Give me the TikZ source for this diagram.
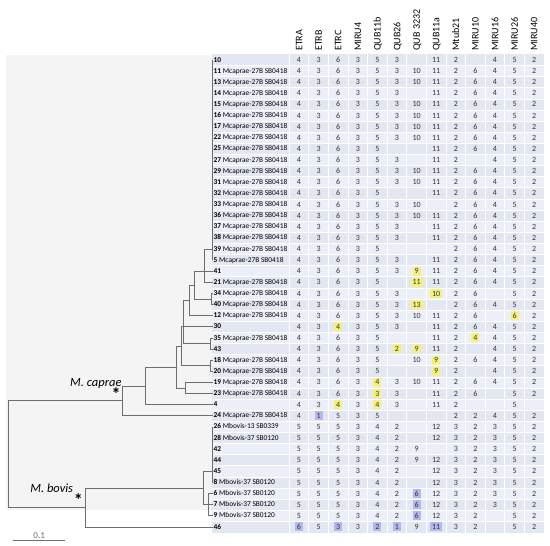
\documentclass[tikz,border=0pt]{standalone}
\usepackage{fontspec}
\setmainfont{Carlito}
\usetikzlibrary{calc,positioning}
\definecolor{TreeBack}{HTML}{F4F4F4}
\definecolor{TreeLine}{HTML}{6E6E6E}
\definecolor{CellA}{HTML}{E2E7F2}
\definecolor{CellB}{HTML}{ECEFF7}
\definecolor{HiYellow}{HTML}{F5F27C}
\definecolor{HiBlue}{HTML}{B5B8EE}
\definecolor{ValText}{HTML}{333333}

% highlighted allele counts
\protected\def\hy#1{{\fboxsep=1.4pt\colorbox{HiYellow}{\kern.5pt\rule[-0.4pt]{0pt}{6.2pt}#1\kern.5pt}}}
\protected\def\hb#1{{\fboxsep=1.4pt\colorbox{HiBlue}{\kern.5pt\rule[-0.4pt]{0pt}{6.2pt}#1\kern.5pt}}}

\begin{document}
\begin{tikzpicture}[
    x=1pt, y=-1pt,
    branch/.style = {draw=TreeLine, line width=0.9pt},
    strain/.style = {font=\fontsize{7.4}{8}\selectfont, inner sep=0pt, text height=5.2pt, text depth=1.2pt},
    val/.style    = {font=\fontsize{8}{8}\selectfont, text=ValText, inner sep=0pt, text height=5pt, text depth=0pt},
    locus/.style  = {font=\fontsize{10}{10}\selectfont, rotate=90, anchor=west, inner sep=0pt, text height=6.5pt, text depth=0pt},
    clade/.style  = {font=\fontsize{12.5}{12.5}\selectfont\itshape, inner sep=0pt},
    ast/.style    = {font=\fontsize{18}{18}\selectfont\bfseries, inner sep=0pt},
  ]
\useasboundingbox (0,0) rectangle (550,546);
\fill[white] (0,0) rectangle (550,546);

% tree panel
\fill[TreeBack] (6,55) rectangle (212,510);

% table background
\fill[CellA] (212,54.44) rectangle (544,532.56);
\foreach \r in {2,4,...,42}
    \fill[CellB] (212,{54.44+11.12*(\r-1)}) rectangle (544,{54.44+11.12*\r});
\foreach \k in {0,...,12}
    \draw[white, line width=1pt] ({289.2+19.6*\k},54.44) -- ({289.2+19.6*\k},532.56);
\foreach \r in {1,...,42}
    \draw[white, line width=0.8pt] (212,{54.44+11.12*\r}) -- (544,{54.44+11.12*\r});

% loci
\foreach \name [count=\c] in {ETRA,ETRB,ETRC,MIRU4,QUB11b,QUB26,QUB 3232,QUB11a,Mtub21,MIRU10,MIRU16,MIRU26,MIRU40}
    \node[locus] (h\c) at ({299+19.6*(\c-1)},51) {\name};

% leaf tips
\foreach \r in {1,...,43} {
    \pgfmathsetmacro\yr{60+11.12*(\r-1)}
    \coordinate (tip\r) at (212.5,\yr);
}

% strains and profiles
\foreach \r/\num/\strain/\vals in {
    1/10//{4,3,6,3,5,3,,11,2,,4,5,2},
    2/11/Mcaprae-27B SB0418/{4,3,6,3,5,3,10,11,2,6,4,5,2},
    3/13/Mcaprae-27B SB0418/{4,3,6,3,5,3,10,11,2,6,4,5,2},
    4/14/Mcaprae-27B SB0418/{4,3,6,3,5,3,,11,2,6,4,5,2},
    5/15/Mcaprae-27B SB0418/{4,3,6,3,5,3,10,11,2,6,4,5,2},
    6/16/Mcaprae-27B SB0418/{4,3,6,3,5,3,10,11,2,6,4,5,2},
    7/17/Mcaprae-27B SB0418/{4,3,6,3,5,3,10,11,2,6,4,5,2},
    8/22/Mcaprae-27B SB0418/{4,3,6,3,5,3,10,11,2,6,4,5,2},
    9/25/Mcaprae-27B SB0418/{4,3,6,3,5,,,11,2,6,4,5,2},
    10/27/Mcaprae-27B SB0418/{4,3,6,3,5,3,,11,2,,4,5,2},
    11/29/Mcaprae-27B SB0418/{4,3,6,3,5,3,10,11,2,6,4,5,2},
    12/31/Mcaprae-27B SB0418/{4,3,6,3,5,3,10,11,2,6,4,5,2},
    13/32/Mcaprae-27B SB0418/{4,3,6,3,5,,,11,2,6,4,5,2},
    14/33/Mcaprae-27B SB0418/{4,3,6,3,5,3,10,,2,6,4,5,2},
    15/36/Mcaprae-27B SB0418/{4,3,6,3,5,3,10,11,2,6,4,5,2},
    16/37/Mcaprae-27B SB0418/{4,3,6,3,5,3,,11,2,6,4,5,2},
    17/38/Mcaprae-27B SB0418/{4,3,6,3,5,3,,11,2,6,4,5,2},
    18/39/Mcaprae-27B SB0418/{4,3,6,3,5,,,,2,6,4,5,2},
    19/5/Mcaprae-27B SB0418/{4,3,6,3,5,3,,11,2,6,4,5,2},
    20/41//{4,3,6,3,5,3,\hy{9},11,2,6,4,5,2},
    21/21/Mcaprae-27B SB0418/{4,3,6,3,5,,\hy{11},11,2,6,4,5,2},
    22/34/Mcaprae-27B SB0418/{4,3,6,3,5,3,,\hy{10},2,6,,5,2},
    23/40/Mcaprae-27B SB0418/{4,3,6,3,5,3,\hy{13},,2,6,4,5,2},
    24/12/Mcaprae-27B SB0418/{4,3,6,3,5,3,10,11,2,6,,\hy{6},2},
    25/30//{4,3,\hy{4},3,5,3,,11,2,6,4,5,2},
    26/35/Mcaprae-27B SB0418/{4,3,6,3,5,,,11,2,\hy{4},4,5,2},
    27/43//{4,3,6,3,5,\hy{2},\hy{9},11,2,,4,5,2},
    28/18/Mcaprae-27B SB0418/{4,3,6,3,5,,10,\hy{9},2,6,4,5,2},
    29/20/Mcaprae-27B SB0418/{4,3,6,3,5,,,\hy{9},2,,4,5,2},
    30/19/Mcaprae-27B SB0418/{4,3,6,3,\hy{4},3,10,11,2,6,4,5,2},
    31/23/Mcaprae-27B SB0418/{4,3,6,3,\hy{3},3,,11,2,6,,5,2},
    32/4//{4,3,\hy{4},3,\hy{4},3,,11,2,,,5,},
    33/24/Mcaprae-27B SB0418/{4,\hb{1},5,3,5,,,,2,2,4,5,2},
    34/26/Mbovis-13 SB0339/{5,5,5,3,4,2,,12,3,2,3,5,2},
    35/28/Mbovis-37 SB0120/{5,5,5,3,4,2,,12,3,2,3,5,2},
    36/42//{5,5,5,3,4,2,9,,3,2,3,5,2},
    37/44//{5,5,5,3,4,2,9,12,3,2,3,5,2},
    38/45//{5,5,5,3,4,2,,12,3,2,3,5,2},
    39/8/Mbovis-37 SB0120/{5,5,5,3,4,2,,12,3,2,3,5,2},
    40/6/Mbovis-37 SB0120/{5,5,5,3,4,2,\hb{6},12,3,2,3,5,2},
    41/7/Mbovis-37 SB0120/{5,5,5,3,4,2,\hb{6},12,3,2,3,5,2},
    42/9/Mbovis-37 SB0120/{5,5,5,3,4,2,\hb{6},12,3,2,,5,2},
    43/46//{\hb{6},5,\hb{3},3,\hb{2},\hb{1},9,\hb{11},3,2,,5,2}} {
    \pgfmathsetmacro\yr{60+11.12*(\r-1)}
    \node[strain, right=1pt of tip\r] (lab\r) {\textbf{\num} \strain};
    \foreach \v [count=\c] in \vals
        \node[val] (v\r-\c) at ({299+19.6*(\c-1)},\yr) {\v};
}

% defining tree nodes
% M. caprae
\coordinate (P)  at (212.5,249.0);
\coordinate (Q)  at (204,271.3);
\coordinate (S)  at (211,299.05);
\coordinate (R)  at (194.3,285.2);
\coordinate (T)  at (189,300.5);
\coordinate (V)  at (210.5,343.55);
\coordinate (U)  at (183.3,326.9);
\coordinate (E)  at (210,365.8);
\coordinate (N4) at (181,346.35);
\coordinate (C)  at (185.7,388.05);
\coordinate (N3) at (176.7,367.2);
\coordinate (N2) at (145,385.95);
\coordinate (N1) at (122.7,400.9);
% M. bovis
\coordinate (B1) at (212.5,471.4);
\coordinate (B2) at (208,504.8);
\coordinate (B3) at (203,488.1);
\coordinate (N0) at (85.7,507.55);
\coordinate (Root) at (8,454.2);

% branches
\foreach \k in {1,...,19} \draw[branch] (P) |- (tip\k);
\foreach \ch in {P,tip20,tip21} \draw[branch] (Q) |- (\ch);
\foreach \ch in {tip22,tip23} \draw[branch] (S) |- (\ch);
\foreach \ch in {Q,S} \draw[branch] (R) |- (\ch);
\foreach \ch in {R,tip24} \draw[branch] (T) |- (\ch);
\foreach \ch in {tip26,tip27} \draw[branch] (V) |- (\ch);
\foreach \ch in {T,tip25,V} \draw[branch] (U) |- (\ch);
\foreach \ch in {tip28,tip29} \draw[branch] (E) |- (\ch);
\foreach \ch in {U,E} \draw[branch] (N4) |- (\ch);
\foreach \ch in {tip30,tip31} \draw[branch] (C) |- (\ch);
\foreach \ch in {N4,C} \draw[branch] (N3) |- (\ch);
\foreach \ch in {N3,tip32} \draw[branch] (N2) |- (\ch);
\foreach \ch in {N2,tip33} \draw[branch] (N1) |- (\ch);
\foreach \k in {34,...,39} \draw[branch] (B1) |- (tip\k);
\foreach \k in {40,41,42} \draw[branch] (B2) |- (tip\k);
\foreach \ch in {B1,B2} \draw[branch] (B3) |- (\ch);
\foreach \ch in {B3,tip43} \draw[branch] (N0) |- (\ch);
\foreach \ch in {N1,N0} \draw[branch] (Root) |- (\ch);

% clades
\node[clade, anchor=base east] (capraeLab) at ($(N1)+(-1,-14)$) {M. caprae};
\node[ast] (capraeAst) at ($(N1)+(-6.5,-7)$) {*};
\node[clade, anchor=base east] (bovisLab) at ($(N0)+(-12.4,-15.3)$) {M. bovis};
\node[ast] (bovisAst) at ($(N0)+(-7.4,-7.5)$) {*};

% scale bar
\coordinate (sb1) at (13.3,540);
\coordinate (sb2) at (65,540);
\draw[TreeLine, line width=0.8pt] (sb1) -- (sb2) node[midway, above=1.5pt, font=\fontsize{9}{9}\selectfont, inner sep=0pt] (sbLab) {0.1};

\end{tikzpicture}
\end{document}
